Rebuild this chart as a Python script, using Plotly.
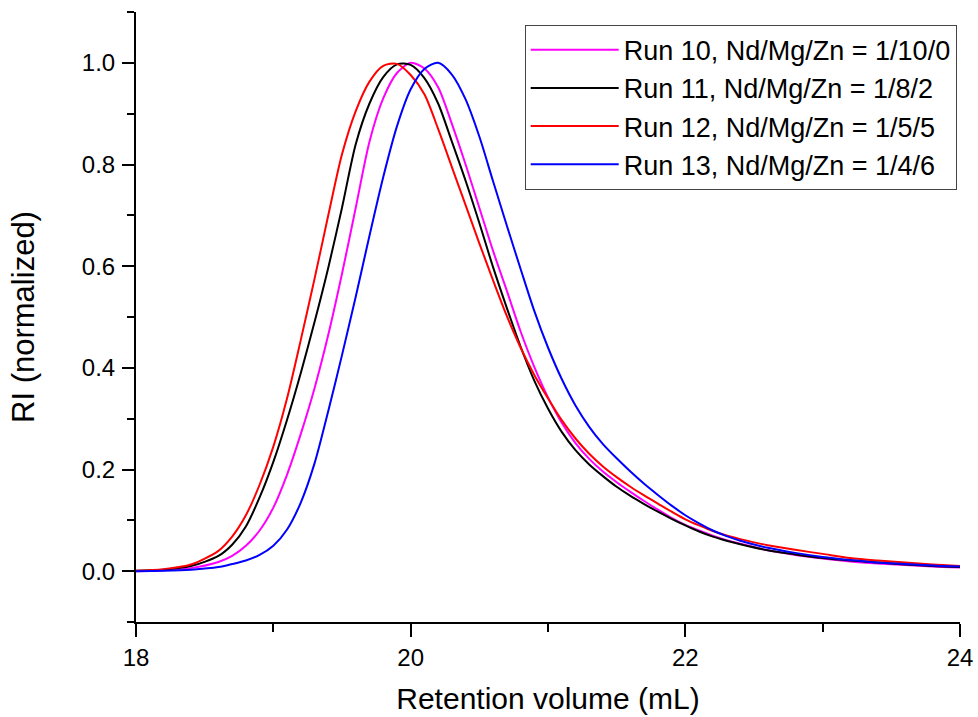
import plotly.graph_objects as go

# Retention volume grid (mL)
volume = [18.0, 18.2, 18.4, 18.6, 18.7, 18.8, 18.9, 19.0, 19.1, 19.2, 19.3, 19.4, 19.5,
          19.6, 19.7, 19.8, 19.9, 20.0, 20.1, 20.2, 20.3, 20.4, 20.5, 20.6, 20.7, 20.8,
          20.9, 21.0, 21.1, 21.2, 21.3, 21.4, 21.5, 21.6, 21.7, 21.8, 21.9, 22.0, 22.1,
          22.2, 22.3, 22.4, 22.6, 22.8, 23.0, 23.2, 23.4, 23.6, 23.8, 24.0]

run10 = [0.000, 0.002, 0.006, 0.018, 0.030, 0.050, 0.080, 0.125, 0.190, 0.270, 0.360, 0.465, 0.585,
         0.715, 0.845, 0.930, 0.980, 1.000, 0.989, 0.952, 0.880, 0.800, 0.715, 0.630, 0.552, 0.472,
         0.402, 0.342, 0.292, 0.252, 0.221, 0.196, 0.175, 0.156, 0.138, 0.121, 0.105, 0.091, 0.080,
         0.070, 0.061, 0.054, 0.041, 0.032, 0.025, 0.019, 0.015, 0.012, 0.009, 0.007]

run11 = [0.001, 0.003, 0.010, 0.030, 0.052, 0.088, 0.145, 0.215, 0.298, 0.390, 0.490, 0.597, 0.715,
         0.840, 0.920, 0.972, 0.997, 0.996, 0.970, 0.920, 0.845, 0.768, 0.685, 0.598, 0.518, 0.442,
         0.375, 0.320, 0.274, 0.238, 0.210, 0.187, 0.166, 0.148, 0.132, 0.117, 0.103, 0.090, 0.078,
         0.068, 0.060, 0.053, 0.041, 0.033, 0.026, 0.021, 0.017, 0.013, 0.010, 0.008]

run12 = [0.001, 0.004, 0.013, 0.040, 0.068, 0.110, 0.170, 0.245, 0.340, 0.455, 0.575, 0.700, 0.820,
         0.905, 0.963, 0.994, 0.998, 0.976, 0.938, 0.870, 0.795, 0.720, 0.645, 0.572, 0.502, 0.440,
         0.386, 0.340, 0.297, 0.261, 0.231, 0.206, 0.185, 0.166, 0.149, 0.133, 0.117, 0.102, 0.090,
         0.079, 0.070, 0.063, 0.051, 0.042, 0.034, 0.026, 0.021, 0.017, 0.013, 0.010]

run13 = [0.000, 0.001, 0.003, 0.008, 0.014, 0.021, 0.032, 0.050, 0.082, 0.135, 0.212, 0.315, 0.425,
         0.540, 0.660, 0.775, 0.875, 0.948, 0.988, 1.000, 0.977, 0.928, 0.855, 0.767, 0.680, 0.595,
         0.512, 0.440, 0.378, 0.326, 0.284, 0.250, 0.222, 0.196, 0.172, 0.150, 0.129, 0.110, 0.094,
         0.080, 0.069, 0.060, 0.046, 0.036, 0.028, 0.022, 0.017, 0.014, 0.011, 0.009]

series_names = ["Run 10, Nd/Mg/Zn = 1/10/0", "Run 11, Nd/Mg/Zn = 1/8/2",
                "Run 12, Nd/Mg/Zn = 1/5/5", "Run 13, Nd/Mg/Zn = 1/4/6"]
series_values = [run10, run11, run12, run13]
series_colors = ["#FF00FF", "#000000", "#FF0000", "#0000FF"]

fig = go.Figure()
for name, vals, col in zip(series_names, series_values, series_colors):
    fig.add_trace(go.Scatter(x=volume, y=vals, mode="lines", name=name,
                             line=dict(color=col, width=2, shape="spline", smoothing=0.8)))

font_family = "Liberation Sans, Arial, sans-serif"
fig.update_layout(
    width=978, height=717,
    margin=dict(l=136, r=18, t=12, b=95, autoexpand=False),
    paper_bgcolor="white", plot_bgcolor="white",
    font=dict(family=font_family, color="black"),
    showlegend=True,
    legend=dict(x=0.996, y=0.979, xanchor="right", yanchor="top",
                bgcolor="white", bordercolor="#444444", borderwidth=1,
                font=dict(size=27, family=font_family, color="black"),
                tracegroupgap=0, itemwidth=88),
)
fig.update_xaxes(range=[18, 24], tickmode="linear", tick0=18, dtick=2, automargin=False,
                 showline=True, linecolor="black", linewidth=2, mirror=False,
                 ticks="outside", ticklen=13, tickwidth=2, tickcolor="black",
                 tickfont=dict(size=24), showgrid=False, zeroline=False,
                 ticklabeloverflow="allow",
                 minor=dict(dtick=1, ticks="outside", ticklen=8, tickwidth=2, tickcolor="black", showgrid=False),
                 title=dict(text="Retention volume (mL)", font=dict(size=30), standoff=18))
fig.update_yaxes(range=[-0.1, 1.1], tickmode="linear", tick0=0, dtick=0.2, tickformat=".1f", automargin=False,
                 showline=True, linecolor="black", linewidth=2, mirror=False,
                 ticks="outside", ticklen=12, tickwidth=2, tickcolor="black",
                 tickfont=dict(size=24), showgrid=False, zeroline=False, ticklabelstandoff=2,
                 minor=dict(dtick=0.1, ticks="outside", ticklen=7, tickwidth=2, tickcolor="black", showgrid=False),
                 title=dict(text="RI (normalized)", font=dict(size=31), standoff=38))

fig.write_html("out.html")
